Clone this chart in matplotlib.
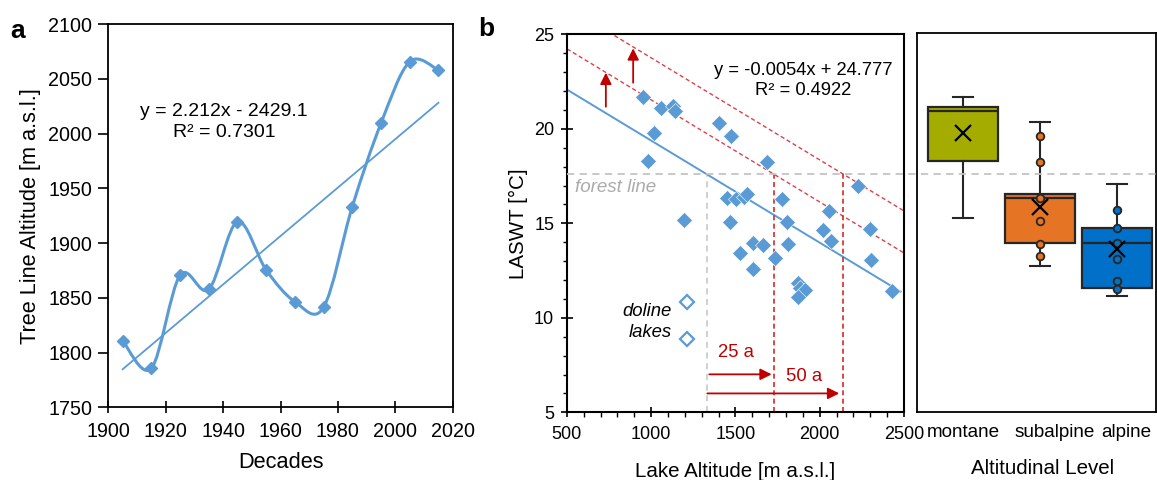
import numpy as np
import matplotlib
matplotlib.use("Agg")
import matplotlib.pyplot as plt
from matplotlib.path import Path
from matplotlib.patches import PathPatch
from matplotlib.lines import Line2D
from matplotlib.transforms import blended_transform_factory

plt.rcParams['font.family'] = ['Liberation Sans', 'DejaVu Sans']

# ---------------- data ----------------
decades = [1905, 1915, 1925, 1935, 1945, 1955, 1965, 1975, 1985, 1995, 2005, 2015]
treeline = [1810.8, 1785.6, 1870.5, 1857.8, 1919.5, 1875.4, 1846.5, 1841.3,
            1933.2, 2009.3, 2065.6, 2058.0]
trend_a_slope = 2.212
trend_a_icpt = -2429.1

lake_alt = [953, 1056, 1130, 1141, 1018, 979, 1194, 1402, 1473, 1685, 2229,
            1450, 1505, 1550, 1570, 1774, 1467, 1804, 2055, 2021, 2067, 2298,
            1606, 1665, 1525, 1813, 1732, 1606, 2302, 2427, 1873, 1885, 1913, 1873]
laswt = [21.7, 21.1, 21.2, 20.95, 19.76, 18.3, 15.2, 20.3, 19.6, 18.25, 17.0,
         16.35, 16.3, 16.4, 16.55, 16.3, 15.05, 15.05, 15.65, 14.65, 14.05, 14.7,
         13.94, 13.85, 13.45, 13.9, 13.18, 12.6, 13.08, 11.43, 11.83, 11.6, 11.47, 11.12]
doline_alt = [1210, 1210]
doline_laswt = [10.85, 8.86]
reg_slope = -0.0054
reg_icpt = 24.777
forest_line = 17.6
shift_25a_alt = 1728
shift_50a_alt = 2140

categories = ['montane', 'subalpine', 'alpine']
box_whislo = [15.23, 12.70, 11.12]
box_q1 = [18.26, 13.90, 11.52]
box_med = [20.90, 16.27, 13.94]
box_q3 = [21.12, 16.53, 14.70]
box_whishi = [21.65, 20.29, 17.01]
box_mean = [19.71, 15.83, 13.59]
subalpine_pts = [19.57, 18.2, 16.27, 15.07, 13.89, 13.25]
alpine_pts = [15.65, 14.7, 13.94, 13.09, 11.91, 11.51]
box_colors = ['#A4AC00', '#E57424', '#0070C8']

BLUE = '#5B9BD5'
RED = '#D42A2A'
DARKRED = '#C00000'
GRAY = '#C4C4C4'
EDGE = '#262626'

fig = plt.figure(figsize=(11.57, 4.8), dpi=100)

# ---------------- panel a ----------------
axa = fig.add_axes([0.0936, 0.1514, 0.2977, 0.7986])


def smooth_path(x, y):
    pts = np.column_stack([x, y]).astype(float)
    n = len(pts)
    verts = [pts[0]]
    codes = [Path.MOVETO]
    for i in range(n - 1):
        p0 = pts[i - 1] if i > 0 else pts[i]
        p1 = pts[i]
        p2 = pts[i + 1]
        p3 = pts[i + 2] if i + 2 < n else pts[i + 1]
        c1 = p1 + (p2 - p0) / 6.0
        c2 = p2 - (p3 - p1) / 6.0
        verts += [c1, c2, p2]
        codes += [Path.CURVE4] * 3
    return Path(verts, codes)


axa.add_patch(PathPatch(smooth_path(decades, treeline), facecolor='none',
                        edgecolor=BLUE, lw=2.2, zorder=3))
axa.plot(decades, treeline, 'D', color=BLUE, ms=6.3, zorder=4)
xt = np.array([decades[0], decades[-1]])
axa.plot(xt, trend_a_slope * xt + trend_a_icpt, color=BLUE, lw=1.3, zorder=2)
axa.set_xlim(1900, 2020)
axa.set_ylim(1750, 2100)
axa.set_xticks(np.arange(1900, 2021, 20))
axa.set_yticks(np.arange(1750, 2101, 50))
axa.tick_params(axis='x', direction='inout', length=9, width=1.2, labelsize=14.2, pad=6)
axa.tick_params(axis='y', direction='out', length=7.5, width=1.2, labelsize=14.2, pad=4)
for s in axa.spines.values():
    s.set_linewidth(1.3)
axa.set_xlabel('Decades', fontsize=15.7, labelpad=8)
axa.set_ylabel('Tree Line Altitude [m a.s.l.]', fontsize=15.7, labelpad=5)
axa.text(1940.3, 2020.5, 'y = 2.212x - 2429.1', ha='center', va='center', fontsize=14)
axa.text(1940.3, 2001.0, 'R² = 0.7301', ha='center', va='center', fontsize=14)

# ---------------- panel b ----------------
axb = fig.add_axes([0.490, 0.141, 0.2913, 0.7875])
axb.set_xlim(500, 2500)
axb.set_ylim(5, 25)

xr = np.array([500, 2480])
axb.plot(xr, reg_slope * xr + reg_icpt, color=BLUE, lw=1.4, zorder=2)

x_full = np.array([500, 2500])
for shift_alt in (shift_25a_alt, shift_50a_alt):
    icpt = forest_line - reg_slope * shift_alt
    axb.plot(x_full, reg_slope * x_full + icpt, color='#E0404A', lw=1.0,
             dashes=(3, 2), zorder=2)
    axb.plot([shift_alt, shift_alt], [5, forest_line], color=RED, lw=1.2,
             dashes=(3, 2), zorder=2)

x_forest = (reg_icpt - forest_line) / (-reg_slope)
axb.plot([x_forest, x_forest], [5, forest_line], color=GRAY, lw=1.1,
         dashes=(4, 3), zorder=1)

trans = blended_transform_factory(fig.transFigure, axb.transData)
fig.add_artist(Line2D([0.490, 0.999], [forest_line, forest_line], transform=trans,
                      color=GRAY, lw=1.3, dashes=(4, 3), zorder=1))

axb.plot(lake_alt, laswt, 'D', color=BLUE, ms=8.3, mec='white', mew=0.4, zorder=4)
axb.plot(doline_alt, doline_laswt, 'D', mfc='white', mec=BLUE, ms=7, mew=1.6, zorder=4)

arrow_kw = dict(arrowstyle='-|>', color=DARKRED, lw=1.3, mutation_scale=17,
                shrinkA=0, shrinkB=0)
axb.annotate('', xy=(731, 22.97), xytext=(731, 21.17), arrowprops=arrow_kw)
axb.annotate('', xy=(893, 24.26), xytext=(893, 22.44), arrowprops=arrow_kw)
axb.annotate('', xy=(1715, 7.01), xytext=(1345, 7.01), arrowprops=arrow_kw)
axb.annotate('', xy=(2116, 6.0), xytext=(1333, 6.0), arrowprops=arrow_kw)

axb.text(1501, 8.15, '25 a', color=DARKRED, fontsize=13.3, ha='center', va='center')
axb.text(1908, 6.88, '50 a', color=DARKRED, fontsize=13.3, ha='center', va='center')
axb.text(1121, 10.32, 'doline', fontsize=13.3, style='italic', ha='right', va='center')
axb.text(1121, 9.2, 'lakes', fontsize=13.3, style='italic', ha='right', va='center')
axb.text(547, 16.88, 'forest line', fontsize=13.5, style='italic', color='#ABABAB',
         ha='left', va='center')
axb.text(1900, 23.1, 'y = -0.0054x + 24.777', fontsize=13.2, ha='center', va='center')
axb.text(1900, 22.05, 'R² = 0.4922', fontsize=13.2, ha='center', va='center')

axb.set_xticks(np.arange(500, 2501, 500))
axb.set_xticks(np.arange(500, 2501, 100), minor=True)
axb.set_yticks(np.arange(5, 26, 5))
axb.set_yticks(np.arange(5, 26, 1), minor=True)
axb.tick_params(axis='x', which='major', direction='inout', length=7, width=1.2,
                labelsize=13, pad=6)
axb.tick_params(axis='x', which='minor', direction='out', length=3.6, width=1.0)
axb.tick_params(axis='y', which='major', direction='inout', length=8.4, width=1.2,
                labelsize=13, pad=5)
axb.tick_params(axis='y', which='minor', direction='out', length=3, width=1.0)
for s in axb.spines.values():
    s.set_linewidth(1.5)
axb.set_xlabel('Lake Altitude [m a.s.l.]', fontsize=14.8, labelpad=14)
axb.set_ylabel('LASWT [°C]', fontsize=14.8, labelpad=4)

# ---------------- panel c ----------------
axc = fig.add_axes([0.7926, 0.1423, 0.2065, 0.7883])
axc.set_xlim(0.4, 3.5)
axc.set_ylim(5, 25)
stats = []
for i, c in enumerate(categories):
    stats.append(dict(whislo=box_whislo[i], q1=box_q1[i], med=box_med[i],
                      q3=box_q3[i], whishi=box_whishi[i], mean=box_mean[i], label=c))
bp = axc.bxp(stats, positions=[1, 2, 3], widths=0.91, patch_artist=True,
             showmeans=True, showfliers=False, capwidths=0.26, manage_ticks=False,
             boxprops=dict(edgecolor=EDGE, linewidth=1.6),
             whiskerprops=dict(color=EDGE, linewidth=1.5),
             capprops=dict(color=EDGE, linewidth=1.5),
             medianprops=dict(color=EDGE, linewidth=1.6),
             meanprops=dict(marker='x', markeredgecolor='black', markersize=11,
                            markeredgewidth=1.6, linestyle='none'))
for patch, col in zip(bp['boxes'], box_colors):
    patch.set_facecolor(col)
for m in bp['means']:
    m.set_zorder(6)
axc.plot([2] * len(subalpine_pts), subalpine_pts, 'o', mfc=box_colors[1], mec=EDGE,
         ms=5.5, mew=1.3, zorder=5)
axc.plot([3] * len(alpine_pts), alpine_pts, 'o', mfc=box_colors[2], mec=EDGE,
         ms=5.5, mew=1.3, zorder=5)
axc.set_yticks([])
axc.set_xticks([1.0, 2.19, 3.12])
axc.set_xticklabels(categories)
axc.tick_params(axis='x', length=0, labelsize=13.6, pad=9)
for s in axc.spines.values():
    s.set_linewidth(1.3)
axc.set_xlabel('Altitudinal Level', fontsize=14.8, labelpad=14)
axc.xaxis.set_label_coords(0.527, -0.125)

# panel letters
fig.text(10 / 1157, 1 - 31 / 480, 'a', fontsize=19, fontweight='bold', va='center')
fig.text(478 / 1157, 1 - 29 / 480, 'b', fontsize=19, fontweight='bold', va='center')

fig.savefig('out.png', dpi=100)
